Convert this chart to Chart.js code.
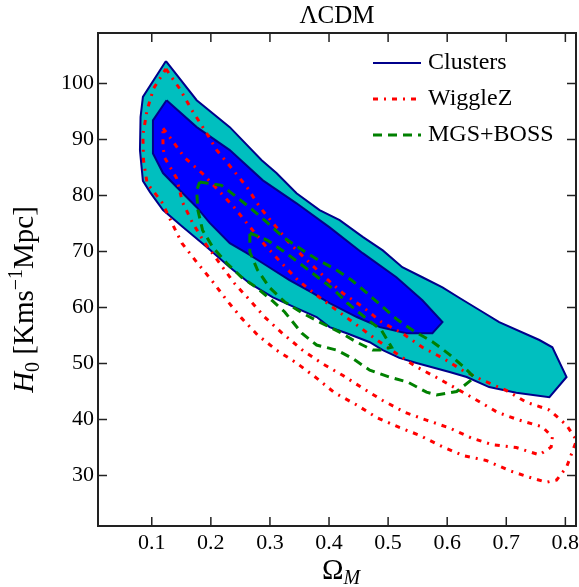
<!DOCTYPE html>
<html>
<head>
<meta charset="utf-8">
<script src="https://cdn.jsdelivr.net/npm/chart.js@4.4.0/dist/chart.umd.min.js"></script>
<style>
    html, body { margin: 0; padding: 0; background: #ffffff; }
</style>
</head>
<body>
<canvas id="contourChart" width="579" height="587"></canvas>
<script>
// contour outlines, as Omega_M / H0 pairs
const clustersOuterX = [0.124, 0.176, 0.232, 0.286, 0.311, 0.345, 0.384, 0.418, 0.457, 0.491, 0.524, 0.558, 0.592, 0.621, 0.660, 0.688, 0.756, 0.778, 0.802, 0.773, 0.717, 0.671, 0.633, 0.604, 0.548, 0.519, 0.491, 0.469, 0.430, 0.401, 0.379, 0.345, 0.305, 0.266, 0.232, 0.193, 0.152, 0.119, 0.097, 0.085, 0.080, 0.081, 0.085];
const clustersOuterY = [104.0, 97.0, 92.2, 86.3, 84.0, 80.4, 77.4, 75.6, 72.6, 70.2, 67.2, 65.4, 63.6, 61.7, 59.2, 57.4, 54.2, 52.9, 47.6, 44.0, 44.8, 45.8, 47.6, 48.5, 50.1, 51.0, 52.4, 53.8, 55.4, 56.5, 58.3, 59.9, 61.8, 64.3, 67.2, 70.8, 74.4, 77.4, 80.6, 82.6, 88.1, 94.0, 97.6];

const clustersInnerX = [0.125, 0.176, 0.232, 0.288, 0.345, 0.401, 0.457, 0.514, 0.558, 0.592, 0.575, 0.531, 0.486, 0.447, 0.401, 0.372, 0.333, 0.288, 0.261, 0.232, 0.198, 0.176, 0.142, 0.119, 0.102, 0.102];
const clustersInnerY = [97.0, 92.2, 88.1, 82.7, 78.6, 74.3, 69.7, 65.4, 61.3, 57.4, 55.4, 55.4, 56.5, 58.3, 60.8, 62.6, 64.9, 67.9, 69.7, 71.5, 75.1, 77.9, 81.5, 84.0, 87.5, 93.4];

const wiggleOuterX = [0.124, 0.135, 0.147, 0.168, 0.190, 0.210, 0.235, 0.261, 0.283, 0.308, 0.333, 0.362, 0.393, 0.423, 0.457, 0.489, 0.524, 0.558, 0.592, 0.626, 0.660, 0.700, 0.734, 0.773, 0.802, 0.819, 0.802, 0.785, 0.768, 0.739, 0.705, 0.666, 0.626, 0.587, 0.553, 0.519, 0.480, 0.447, 0.409, 0.379, 0.345, 0.311, 0.279, 0.252, 0.227, 0.201, 0.176, 0.151, 0.134, 0.117, 0.092, 0.086, 0.085, 0.092, 0.103];
const wiggleOuterY = [102.6, 100.9, 99.1, 95.2, 91.6, 88.1, 84.9, 81.5, 77.9, 74.7, 71.5, 68.5, 65.4, 62.6, 60.1, 57.4, 55.4, 52.9, 51.0, 48.8, 47.0, 45.2, 43.1, 41.7, 39.0, 36.3, 31.5, 29.2, 28.8, 29.7, 30.9, 32.7, 33.6, 35.4, 37.2, 38.6, 40.4, 42.6, 44.8, 47.4, 50.1, 52.4, 55.1, 58.1, 61.3, 64.9, 68.1, 71.5, 75.1, 78.8, 82.2, 86.3, 90.8, 95.2, 99.1];

const wiggleInnerX = [0.119, 0.134, 0.156, 0.185, 0.212, 0.240, 0.266, 0.291, 0.320, 0.347, 0.379, 0.413, 0.443, 0.477, 0.514, 0.545, 0.582, 0.616, 0.651, 0.685, 0.722, 0.761, 0.778, 0.776, 0.756, 0.717, 0.677, 0.641, 0.604, 0.565, 0.528, 0.491, 0.457, 0.423, 0.387, 0.355, 0.321, 0.291, 0.266, 0.240, 0.215, 0.190, 0.169, 0.152, 0.142, 0.122, 0.119];
const wiggleInnerY = [92.0, 89.9, 86.7, 84.0, 81.0, 77.8, 74.4, 71.2, 67.9, 64.9, 62.2, 59.5, 57.2, 54.5, 51.8, 49.6, 47.5, 45.5, 43.4, 41.3, 39.9, 38.7, 36.9, 35.1, 33.7, 35.0, 35.5, 36.7, 38.5, 39.9, 41.3, 43.4, 45.6, 47.9, 50.1, 52.4, 55.4, 58.3, 61.3, 64.3, 67.9, 71.5, 75.1, 78.8, 83.1, 86.7, 88.6];

const mgsOuterX = [0.181, 0.218, 0.244, 0.271, 0.296, 0.322, 0.350, 0.381, 0.411, 0.438, 0.464, 0.491, 0.516, 0.545, 0.575, 0.604, 0.629, 0.646, 0.616, 0.582, 0.565, 0.533, 0.502, 0.469, 0.440, 0.413, 0.379, 0.354, 0.325, 0.303, 0.278, 0.252, 0.227, 0.203, 0.186, 0.178, 0.176];
const mgsOuterY = [82.4, 81.8, 79.7, 77.4, 75.1, 72.6, 70.6, 68.5, 66.8, 64.9, 62.6, 60.1, 57.8, 55.7, 53.9, 51.6, 49.3, 47.5, 45.0, 44.4, 44.9, 46.7, 47.6, 48.8, 50.9, 52.4, 53.3, 55.4, 59.2, 61.3, 63.5, 65.4, 67.9, 70.8, 73.8, 77.4, 80.9];

const mgsInnerX = [0.266, 0.296, 0.325, 0.354, 0.381, 0.406, 0.431, 0.460, 0.489, 0.506, 0.486, 0.474, 0.447, 0.418, 0.384, 0.355, 0.325, 0.299, 0.279, 0.266];
const mgsInnerY = [73.3, 72.0, 69.9, 67.6, 65.4, 63.4, 60.8, 58.3, 55.9, 52.9, 52.4, 52.4, 53.8, 55.6, 57.4, 59.0, 61.0, 63.6, 66.7, 69.9];

const xTicks = [0.1, 0.2, 0.3, 0.4, 0.5, 0.6, 0.7, 0.8];
const yTicks = [30, 40, 50, 60, 70, 80, 90, 100];

const serif = "'Liberation Serif', 'DejaVu Serif', serif";

function closedShape(xs, ys) {
    const pts = xs.map((x, i) => ({ x: x, y: ys[i] }));
    pts.push(pts[0]);
    return pts;
}

const navy = "#00008b";
const red = "#ff0000";
const green = "#008000";
const redDash = [5, 6, 2, 6];
const greenDash = [9, 6];

// legend rows (drawn by the plugin below)
const legendRows = [
    { label: "Clusters", color: navy, dash: [], width: 2 },
    { label: "WiggleZ", color: red, dash: redDash, width: 3 },
    { label: "MGS+BOSS", color: green, dash: greenDash, width: 3 }
];

function drawRich(ctx, parts, cx, baseline) {
    let total = 0;
    parts.forEach(p => {
        ctx.font = `${p.style} ${p.size}px ${serif}`;
        total += ctx.measureText(p.text).width;
    });
    let x = cx - total / 2;
    parts.forEach(p => {
        ctx.font = `${p.style} ${p.size}px ${serif}`;
        ctx.fillText(p.text, x, baseline + p.shift);
        x += ctx.measureText(p.text).width;
    });
}

const framePlugin = {
    id: "frame",
    afterDatasetsDraw(chart) {
        const { ctx, chartArea: a, scales } = chart;
        ctx.save();
        ctx.strokeStyle = "#222222";
        ctx.lineWidth = 1.5;
        ctx.beginPath();
        xTicks.forEach(v => {
            const px = scales.x.getPixelForValue(v);
            ctx.moveTo(px, a.bottom);
            ctx.lineTo(px, a.bottom - 9);
            ctx.moveTo(px, a.top);
            ctx.lineTo(px, a.top + 9);
        });
        yTicks.forEach(v => {
            const py = scales.y.getPixelForValue(v);
            ctx.moveTo(a.left, py);
            ctx.lineTo(a.left + 9, py);
            ctx.moveTo(a.right, py);
            ctx.lineTo(a.right - 9, py);
        });
        ctx.stroke();
        ctx.lineWidth = 2;
        ctx.strokeRect(a.left, a.top, a.right - a.left, a.bottom - a.top);

        // legend, top right inside the axes
        const lx = a.right - 203;
        legendRows.forEach((row, i) => {
            const ly = a.top + 30 + i * 36;
            ctx.beginPath();
            ctx.setLineDash(row.dash);
            ctx.strokeStyle = row.color;
            ctx.lineWidth = row.width;
            ctx.moveTo(lx, ly);
            ctx.lineTo(lx + 48, ly);
            ctx.stroke();
            ctx.setLineDash([]);
            ctx.fillStyle = "#000000";
            ctx.font = `24px ${serif}`;
            ctx.textBaseline = "middle";
            ctx.fillText(row.label, lx + 55, ly);
        });
        ctx.restore();
    },
    afterDraw(chart) {
        const { ctx, chartArea: a } = chart;
        ctx.save();
        ctx.fillStyle = "#000000";
        ctx.textBaseline = "alphabetic";
        // x axis title
        drawRich(ctx, [
            { text: "\u03A9", size: 29, style: "normal", shift: 0 },
            { text: "M", size: 20, style: "italic", shift: 5 }
        ], (a.left + a.right) / 2 + 4, 579);
        // y axis title
        ctx.translate(33, (a.top + a.bottom) / 2 + 20);
        ctx.rotate(-Math.PI / 2);
        drawRich(ctx, [
            { text: "H", size: 29, style: "italic", shift: 0 },
            { text: "0", size: 20, style: "normal", shift: 6 },
            { text: " [Kms", size: 29, style: "normal", shift: 0 },
            { text: "\u22121", size: 20, style: "normal", shift: -11 },
            { text: "Mpc]", size: 29, style: "normal", shift: 0 }
        ], 0, 0);
        ctx.restore();
    }
};

new Chart(document.getElementById("contourChart"), {
    type: "scatter",
    data: {
        datasets: [
            {
                label: "MGS+BOSS",
                data: closedShape(mgsInnerX, mgsInnerY),
                borderColor: green,
                borderWidth: 3,
                borderDash: greenDash,
                showLine: true,
                fill: false
            },
            {
                label: "MGS+BOSS 95",
                data: closedShape(mgsOuterX, mgsOuterY),
                borderColor: green,
                borderWidth: 3,
                borderDash: greenDash,
                showLine: true,
                fill: false
            },
            {
                label: "WiggleZ",
                data: closedShape(wiggleInnerX, wiggleInnerY),
                borderColor: red,
                borderWidth: 3,
                borderDash: redDash,
                showLine: true,
                fill: false
            },
            {
                label: "WiggleZ 95",
                data: closedShape(wiggleOuterX, wiggleOuterY),
                borderColor: red,
                borderWidth: 3,
                borderDash: redDash,
                showLine: true,
                fill: false
            },
            {
                label: "Clusters",
                data: closedShape(clustersInnerX, clustersInnerY),
                borderColor: navy,
                backgroundColor: "#0000ff",
                borderWidth: 2,
                showLine: true,
                fill: "shape"
            },
            {
                label: "Clusters 95",
                data: closedShape(clustersOuterX, clustersOuterY),
                borderColor: navy,
                backgroundColor: "#00bfbf",
                borderWidth: 2,
                showLine: true,
                fill: "shape"
            }
        ]
    },
    options: {
        responsive: false,
        animation: false,
        devicePixelRatio: 1,
        layout: {
            padding: { left: 0, right: 3, top: 0, bottom: 0 }
        },
        elements: {
            point: { radius: 0, hoverRadius: 0 },
            line: { tension: 0 }
        },
        plugins: {
            legend: { display: false },
            tooltip: { enabled: false },
            title: {
                display: true,
                text: "\u039BCDM",
                fullSize: false,
                color: "#000000",
                font: { family: serif, size: 25, weight: "normal" },
                padding: { top: 1, bottom: 2 }
            }
        },
        scales: {
            x: {
                type: "linear",
                min: 0.009,
                max: 0.818,
                grid: { display: false, drawTicks: false },
                border: { display: false },
                afterBuildTicks: scale => {
                    scale.ticks = xTicks.map(v => ({ value: v }));
                },
                afterFit: scale => {
                    scale.height = 61;
                    scale.paddingLeft = 0;
                    scale.paddingRight = 0;
                },
                ticks: {
                    color: "#000000",
                    padding: 4,
                    font: { family: serif, size: 22 },
                    callback: v => v.toFixed(1)
                }
            },
            y: {
                type: "linear",
                min: 21,
                max: 109,
                grid: { display: false, drawTicks: false },
                border: { display: false },
                afterBuildTicks: scale => {
                    scale.ticks = yTicks.map(v => ({ value: v }));
                },
                afterFit: scale => {
                    scale.width = 98;
                    scale.paddingTop = 0;
                    scale.paddingBottom = 0;
                },
                ticks: {
                    color: "#000000",
                    padding: 4,
                    font: { family: serif, size: 22 },
                    callback: v => String(v)
                }
            }
        }
    },
    plugins: [framePlugin]
});
</script>
</body>
</html>
